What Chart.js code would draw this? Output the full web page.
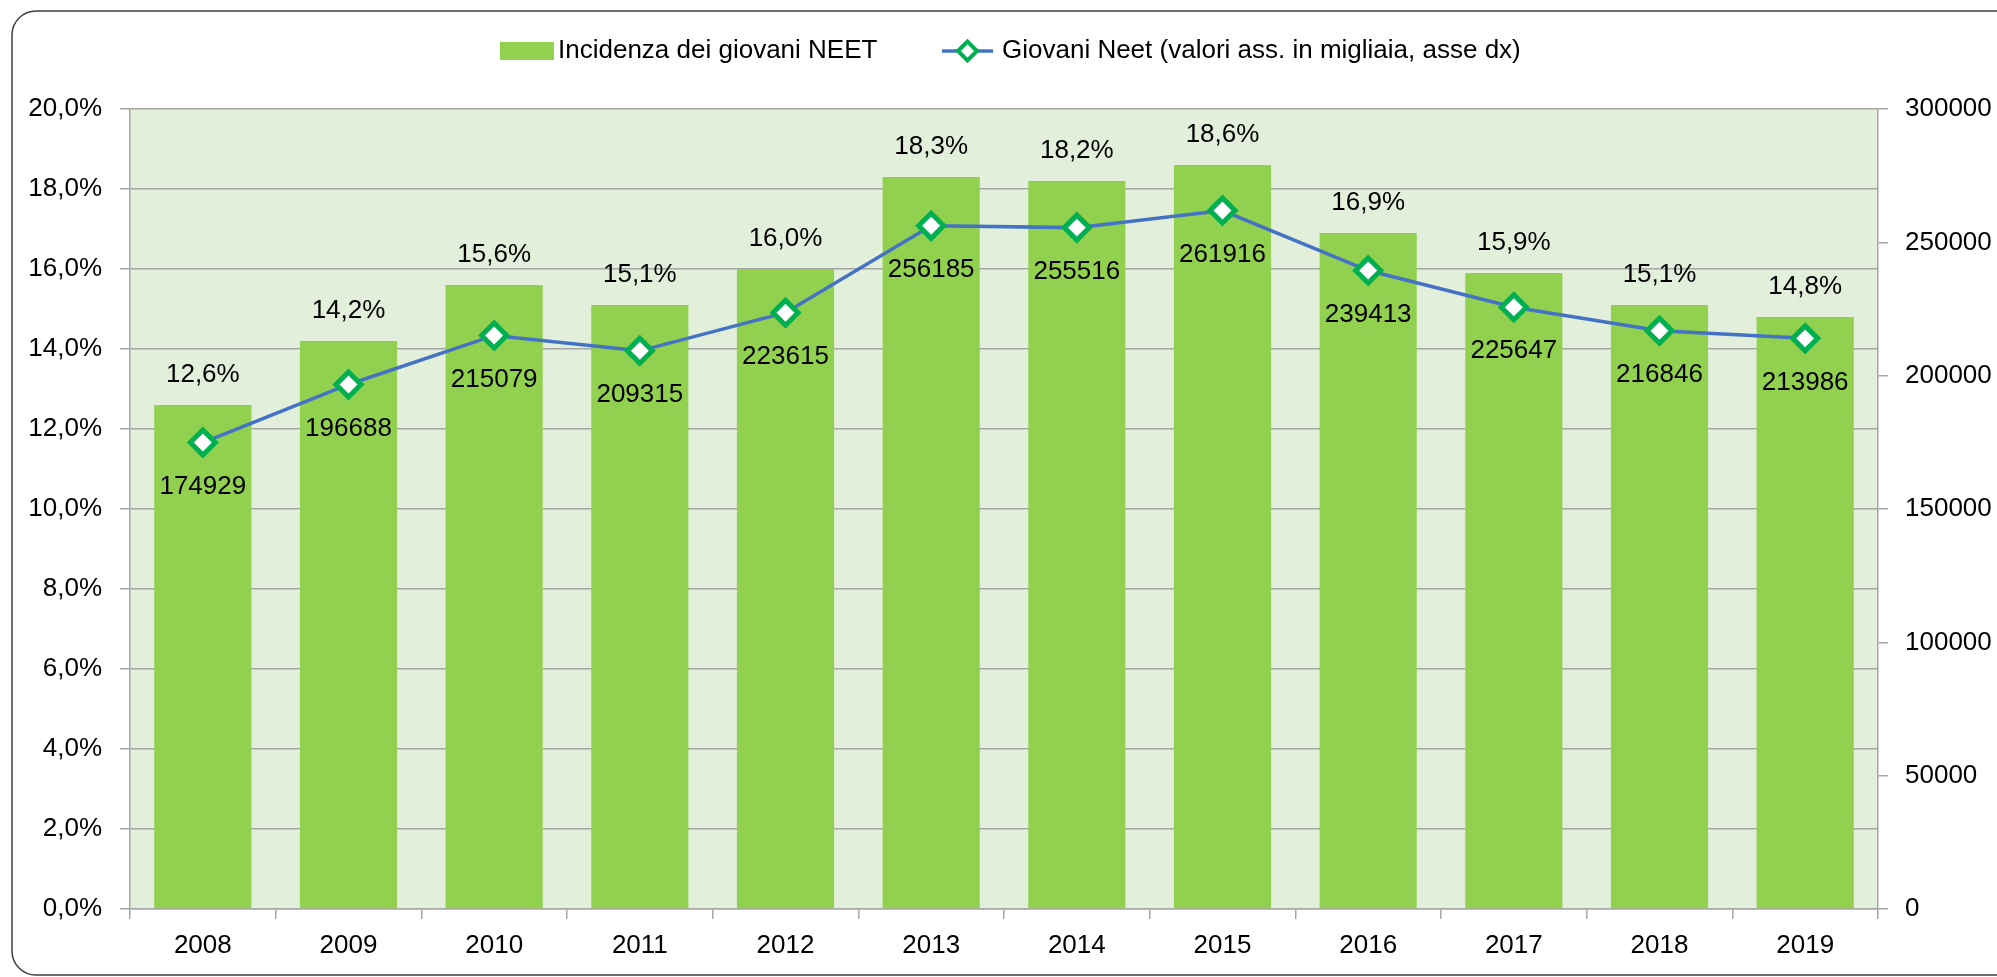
<!DOCTYPE html>
<html>
<head>
<meta charset="utf-8">
<script src="https://cdn.jsdelivr.net/npm/chart.js@4/dist/chart.umd.min.js"></script>
<style>
  html, body { margin: 0; padding: 0; background: #fff; }
</style>
</head>
<body>
<canvas id="c" width="1997" height="977"></canvas>
<script>
const years = ["2008", "2009", "2010", "2011", "2012", "2013", "2014", "2015", "2016", "2017", "2018", "2019"];
const incidenza = [12.6, 14.2, 15.6, 15.1, 16.0, 18.3, 18.2, 18.6, 16.9, 15.9, 15.1, 14.8];
const giovaniNeet = [174929, 196688, 215079, 209315, 223615, 256185, 255516, 261916, 239413, 225647, 216846, 213986];
const legendLabels = ["Incidenza dei giovani NEET", "Giovani Neet (valori ass. in migliaia, asse dx)"];

const FONT = "'Liberation Sans', Arial, sans-serif";
const GRID = "#A6A6A6";

const fmtPct = (v) => v.toFixed(1).replace(".", ",") + "%";

const decor = {
  id: "decor",
  beforeDraw(chart) {
    const { ctx, chartArea: a } = chart;
    ctx.save();
    ctx.fillStyle = "#fff";
    ctx.fillRect(0, 0, chart.width, chart.height);
    ctx.fillStyle = "#E2EFDA";
    ctx.fillRect(a.left, a.top, a.right - a.left, a.bottom - a.top);
    ctx.strokeStyle = "#404040";
    ctx.lineWidth = 1.5;
    ctx.beginPath();
    ctx.roundRect(12, 11, 2010, 964, 24);
    ctx.stroke();
    ctx.restore();
  },
  afterDatasetsDraw(chart) {
    const { ctx } = chart;
    ctx.save();
    ctx.fillStyle = "#000";
    ctx.textAlign = "center";
    ctx.textBaseline = "middle";
    ctx.font = "26px " + FONT;
    chart.getDatasetMeta(0).data.forEach((bar, i) => {
      ctx.fillText(fmtPct(incidenza[i]), bar.x, bar.y - 30);
    });
    chart.getDatasetMeta(1).data.forEach((pt, i) => {
      ctx.fillText(String(giovaniNeet[i]), pt.x, pt.y + 44);
    });
    ctx.restore();
  },
  afterDraw(chart) {
    const { ctx } = chart;
    ctx.save();
    ctx.font = "26px " + FONT;
    ctx.textBaseline = "middle";
    ctx.fillStyle = "#92D050";
    ctx.fillRect(500, 42, 54, 18);
    ctx.fillStyle = "#000";
    ctx.fillText(legendLabels[0], 558, 51);
    ctx.strokeStyle = "#4472C4";
    ctx.lineWidth = 3.5;
    ctx.beginPath();
    ctx.moveTo(942, 51);
    ctx.lineTo(993, 51);
    ctx.stroke();
    ctx.beginPath();
    ctx.moveTo(958, 51);
    ctx.lineTo(967.5, 41.5);
    ctx.lineTo(977, 51);
    ctx.lineTo(967.5, 60.5);
    ctx.closePath();
    ctx.fillStyle = "#fff";
    ctx.fill();
    ctx.strokeStyle = "#00B050";
    ctx.lineWidth = 4;
    ctx.stroke();
    ctx.fillStyle = "#000";
    ctx.fillText(legendLabels[1], 1002, 51);
    ctx.restore();
  },
};

new Chart(document.getElementById("c"), {
  data: {
    labels: years,
    datasets: [
      {
        type: "bar",
        label: legendLabels[0],
        data: incidenza,
        backgroundColor: "#92D050",
        categoryPercentage: 1,
        barPercentage: 0.667,
        yAxisID: "y",
        order: 1,
      },
      {
        type: "line",
        label: legendLabels[1],
        data: giovaniNeet,
        borderColor: "#4472C4",
        borderWidth: 3.5,
        tension: 0,
        pointStyle: "rectRot",
        pointRadius: 12.5,
        pointBorderWidth: 5,
        pointBorderColor: "#00B050",
        pointBackgroundColor: "#fff",
        yAxisID: "y1",
        order: 0,
      },
    ],
  },
  options: {
    responsive: false,
    animation: false,
    layout: { padding: { top: 109, left: 0, right: 0, bottom: 0 } },
    plugins: {
      legend: { display: false },
      tooltip: { enabled: false },
    },
    scales: {
      x: {
        grid: { offset: true, drawOnChartArea: false, tickLength: 10, color: GRID, lineWidth: 1.5 },
        border: { color: GRID, width: 1.5 },
        ticks: { padding: 11, color: "#000", font: { family: FONT, size: 26 } },
        afterFit(s) { s.height = 68; },
      },
      y: {
        position: "left",
        min: 0,
        max: 20,
        grid: { tickLength: 10, color: GRID, lineWidth: 1.5 },
        border: { color: GRID, width: 1.5 },
        ticks: { stepSize: 2, padding: 18, color: "#000", font: { family: FONT, size: 26 }, callback: (v) => fmtPct(v) },
        afterFit(s) { s.width = 130; },
      },
      y1: {
        position: "right",
        min: 0,
        max: 300000,
        grid: { drawOnChartArea: false, tickLength: 10, color: GRID, lineWidth: 1.5 },
        border: { color: GRID, width: 1.5 },
        ticks: { stepSize: 50000, padding: 17, color: "#000", font: { family: FONT, size: 26 }, callback: (v) => String(v) },
        afterFit(s) { s.width = 119; },
      },
    },
  },
  plugins: [decor],
});
</script>
</body>
</html>
